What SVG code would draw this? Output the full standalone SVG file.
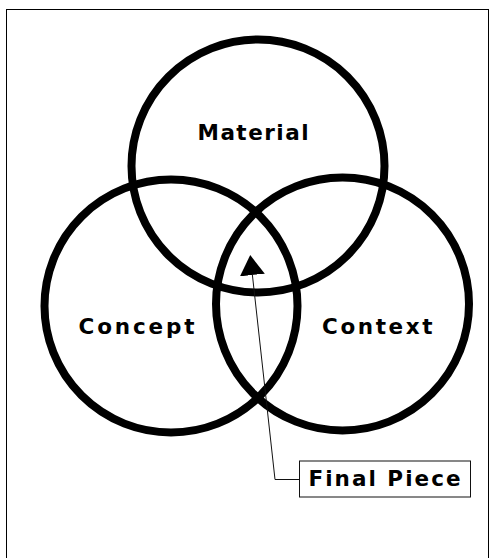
<svg xmlns="http://www.w3.org/2000/svg" width="489" height="558" viewBox="0 0 489 558">
  <style>
    .ring { fill: none; stroke: #000; stroke-width: 8; }
    .label { font-family: "DejaVu Sans", "Liberation Sans", sans-serif; font-weight: 700; font-size: 21.5px; fill: #000; }
    .conn { fill: none; stroke: #111; stroke-width: 1; }
    .box { fill: #fff; stroke: #111; stroke-width: 1; }
  </style>
  <defs>
    <marker id="tri" markerUnits="userSpaceOnUse" viewBox="0 0 20 25" refX="0" refY="12.5" markerWidth="20" markerHeight="25" orient="auto">
      <path d="M0,0 L20,12.5 L0,25 z" fill="#000"/>
    </marker>
  </defs>
  <rect x="6.5" y="9.5" width="482" height="560" fill="#fff" stroke="#000" stroke-width="1"/>
  <g id="material">
    <circle class="ring" cx="258" cy="166" r="126.5"/>
    <text class="label" x="197.5" y="140" textLength="111" lengthAdjust="spacing">Material</text>
  </g>
  <g id="concept">
    <circle class="ring" cx="171" cy="306" r="126.5"/>
    <text class="label" x="78.5" y="334" textLength="116" lengthAdjust="spacing">Concept</text>
  </g>
  <g id="context">
    <circle class="ring" cx="342.5" cy="304" r="126.5"/>
    <text class="label" x="322" y="334" textLength="110.5" lengthAdjust="spacing">Context</text>
  </g>
  <g id="connectors">
    <path class="conn" d="M299.5,479.5 H275 L252.4,275" marker-end="url(#tri)"/>
  </g>
  <g id="final-piece">
    <rect class="box" x="299.5" y="461" width="171" height="36"/>
    <text class="label" x="308.5" y="486" textLength="152" lengthAdjust="spacing">Final Piece</text>
  </g>
</svg>
